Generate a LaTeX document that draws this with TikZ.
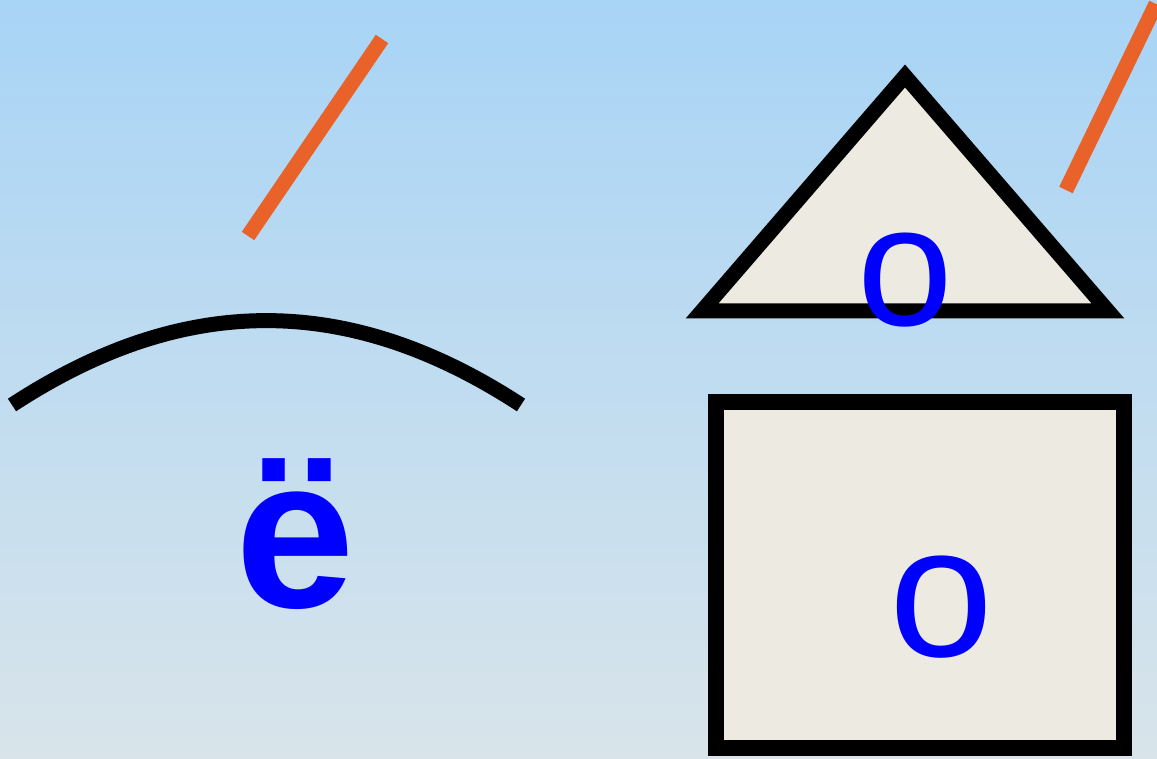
\documentclass[tikz,border=0pt]{standalone}
\usepackage{fontspec}
\setmainfont{Liberation Sans}
\definecolor{bgtop}{RGB}{168,212,246}
\definecolor{bgbot}{RGB}{216,228,234}
\definecolor{orangeline}{RGB}{232,98,42}
\definecolor{paper}{RGB}{237,235,225}
\definecolor{textblue}{RGB}{0,0,255}
\begin{document}
\begin{tikzpicture}[x=1pt,y=-1pt,
  stroke/.style={line width=15pt},
  ray/.style={draw=orangeline,line width=15pt},
  shapebox/.style={draw=black,fill=paper,line width=15pt,line join=miter},
  letter/.style={text=textblue,inner sep=0pt,anchor=center}]
\shade[top color=bgtop,bottom color=bgbot] (0,0) rectangle (1157,759);
\useasboundingbox (0,0) rectangle (1157,759);
% orange strokes
\coordinate (r1a) at (382,39); \coordinate (r1b) at (248,236);
\draw[ray] (r1a) -- (r1b);
\coordinate (r2a) at (1156,4); \coordinate (r2b) at (1066,190);
\draw[ray] (r2a) -- (r2b);
% arc
\coordinate (arcL) at (12,405); \coordinate (arcR) at (521,405);
\draw[stroke] (arcL) .. controls (180,295) and (345,290) .. (arcR);
% triangle
\coordinate (tA) at (905,76); \coordinate (tL) at (702,311); \coordinate (tR) at (1108,311);
\draw[shapebox] (tA) -- (tL) -- (tR) -- cycle;
% rectangle
\coordinate (bTL) at (716,402); \coordinate (bBR) at (1124,748);
\draw[shapebox,line width=16pt] (bTL) rectangle (bBR);
% letters
\node[letter,font=\fontsize{172}{172}\selectfont] (o1) at (905,280) {o};
\node[letter,font=\fontsize{187}{187}\selectfont] (o2) at (941,607) {o};
\node[letter,font=\bfseries\fontsize{215}{215}\selectfont,anchor=base] (e1) at (295,607) {ë};
\end{tikzpicture}
\end{document}
